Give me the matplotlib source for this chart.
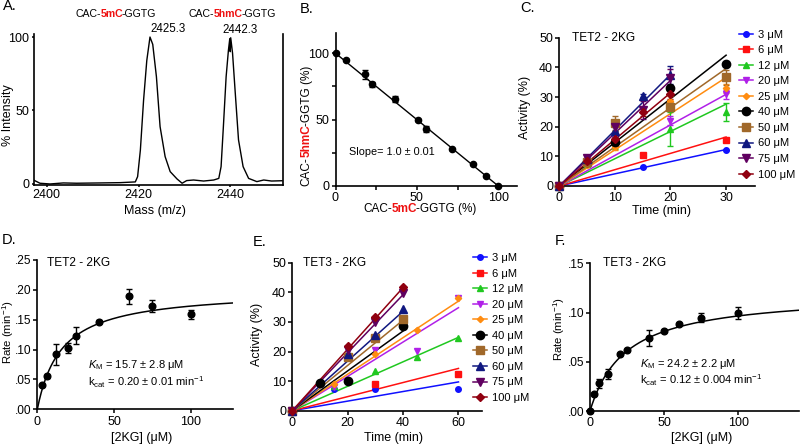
import numpy as np
import matplotlib
matplotlib.use('Agg')
import matplotlib.pyplot as plt
from matplotlib.ticker import FuncFormatter
from matplotlib.lines import Line2D

plt.rcParams['font.family'] = ['Liberation Sans', 'DejaVu Sans']
plt.rcParams['mathtext.fontset'] = 'custom'
plt.rcParams['mathtext.rm'] = 'Liberation Sans'
plt.rcParams['mathtext.it'] = 'Liberation Sans:italic'
plt.rcParams['mathtext.bf'] = 'Liberation Sans:bold'

# ---------------- data ----------------
# A: mass spectrum trace
mass_a = [2397.1, 2398.5, 2400.7, 2403.6, 2406.5, 2411.6, 2416.0, 2419.3, 2419.8, 2420.4,
          2421.1, 2421.8, 2422.5, 2423.1, 2423.9, 2424.7, 2425.8, 2426.9, 2428.4, 2429.5,
          2430.5, 2432.0, 2434.2, 2436.4, 2437.5, 2438.0, 2438.5, 2439.1, 2439.6, 2439.9,
          2440.0, 2440.1, 2440.5, 2441.1, 2441.8, 2442.8, 2444.0, 2445.8, 2447.3, 2449.0, 2451.3]
intensity_a = [2.7, 0.5, 0.0, 0.7, 0.5, 0.7, 0.9, 1.4, 5.0, 23.0,
               57.0, 84.0, 100.0, 95.0, 73.0, 39.0, 18.6, 8.4, 3.4, 0.5,
               2.3, 2.7, 2.0, 2.7, 3.8, 11.8, 39.0, 73.0, 91.0, 99.0,
               90.0, 99.5, 89.0, 61.5, 30.0, 11.8, 3.8, 1.6, 2.7, 2.0, 2.2]

# B: calibration
pct_5mc = [0, 6.5, 18.4, 22.4, 36.3, 50.6, 55.5, 71.4, 84.7, 92.3, 100]
pct_5hmc = [100, 95.0, 84.2, 76.6, 65.6, 49.8, 43.0, 27.7, 16.4, 7.8, 0]
err_b = [0, 0.5, 3.5, 2.0, 2.0, 0.5, 2.5, 0.5, 0.5, 0.5, 0]
b_slope = -1.0
b_intercept = 100.0

# C: TET2 time courses
conc = [3, 6, 12, 20, 25, 40, 50, 60, 75, 100]
conc_labels = ['3 μM', '6 μM', '12 μM', '20 μM', '25 μM', '40 μM', '50 μM', '60 μM', '75 μM', '100 μM']
c_t = [[0, 15, 30], [0, 15, 30], [0, 5, 10, 20, 30], [0, 5, 10, 20, 30], [0, 5, 10, 20, 30],
       [0, 5, 10, 20, 30], [0, 5, 10, 20, 30], [0, 5, 10, 15, 20], [0, 5, 10, 15, 20], [0, 5, 10, 15, 20]]
c_y = [[0, 6.5, 12.3], [0, 10.3, 15.6], [0, 7.5, 15.5, 19.2, 25.0], [0, 9.5, 17.0, 22.0, 31.0],
       [0, 7.0, 13.0, 28.5, 33.0], [0, 8.0, 15.0, 33.2, 41.2], [0, 8.0, 21.3, 26.8, 36.7],
       [0, 9.0, 18.5, 30.5, 37.5], [0, 9.5, 20.0, 25.5, 36.5], [0, 8.5, 16.0, 25.0, 31.0]]
c_err = [[0, 0, 0], [0, 0, 0], [0, 0.5, 3.0, 5.8, 3.0], [0, 1.0, 1.0, 1.5, 1.5],
         [0, 0.5, 1.0, 2.0, 1.5], [0, 0.5, 1.5, 1.0, 0.5], [0, 0.5, 2.3, 1.5, 2.5],
         [0, 0.5, 1.5, 0.5, 3.0], [0, 1.0, 1.5, 3.0, 3.0], [0, 0.5, 2.0, 1.5, 1.5]]
c_slope = [0.41, 0.55, 0.92, 1.03, 1.22, 1.47, 1.32, 1.88, 1.78, 1.57]

# D: TET2 Michaelis-Menten
d_conc = [3, 6, 12, 20, 25, 40, 60, 75, 100]
d_rate = [0.041, 0.055, 0.092, 0.103, 0.123, 0.147, 0.189, 0.173, 0.159]
d_err = [0.002, 0.002, 0.018, 0.008, 0.014, 0.002, 0.013, 0.010, 0.007]
d_vmax, d_km = 0.20, 15.7

# E: TET3 time courses
e_t = [[0, 15, 30, 60], [0, 30, 60], [0, 15, 30, 45, 60], [0, 15, 30, 45, 60], [0, 15, 30, 45, 60],
       [0, 10, 20, 40], [0, 20, 30, 40], [0, 20, 30, 40], [0, 20, 30, 40], [0, 20, 30, 40]]
e_y = [[0, 7.2, 7.2, 7.2], [0, 9.0, 12.3], [0, 8.5, 13.5, 18.0, 24.4], [0, 8.0, 20.5, 20.3, 38.0],
       [0, 9.0, 19.0, 27.3, 38.2], [0, 9.2, 10.0, 28.6], [0, 18.0, 24.4, 30.9],
       [0, 19.0, 25.5, 34.2], [0, 20.5, 30.0, 39.6], [0, 22.0, 31.8, 41.9]]
e_slope = [0.162, 0.238, 0.413, 0.58, 0.617, 0.673, 0.765, 0.84, 0.98, 1.04]

# F: TET3 Michaelis-Menten
f_conc = [0, 3, 6, 12, 20, 25, 40, 50, 60, 75, 100]
f_rate = [0.0, 0.017, 0.028, 0.038, 0.058, 0.062, 0.074, 0.081, 0.088, 0.095, 0.100]
f_err = [0, 0.001, 0.005, 0.005, 0.001, 0.001, 0.008, 0.001, 0.001, 0.005, 0.006]
f_vmax, f_km = 0.12, 24.2

# styles
colors = ['#1010ff', '#ff1010', '#20c820', '#b020e8', '#ff8c10',
          '#000000', '#a0682a', '#101880', '#600060', '#900010']
markers = ['o', 's', '^', 'v', 'D', 'o', 's', '^', 'v', 'D']
msizes = [4, 4.5, 4.5, 4.5, 3.2, 6, 5.5, 5.5, 5.5, 4.5]

# ---------------- figure ----------------
W, H = 800, 445
fig = plt.figure(figsize=(8, 4.45), dpi=100)

def add_ax(l, t, r, b):
    return fig.add_axes([l / W, 1 - b / H, (r - l) / W, (b - t) / H])

def P(x, y):
    return (x / W, 1 - y / H)

TICK = 9
LAB = 9
RED = '#ee1111'

def style(ax, right=False):
    for s in ['top', 'right']:
        ax.spines[s].set_visible(False)
    if right:
        ax.spines['right'].set_visible(True)
    for s in ax.spines.values():
        s.set_linewidth(1.2)
    ax.tick_params(direction='out', length=3, width=1.1, labelsize=TICK, pad=1.5)
    ax.patch.set_alpha(0)

def chain_texts(x, y, parts, size, rotation=0):
    """Place consecutive differently-coloured pieces of text."""
    arts = []
    host = fig.get_axes()[0]
    for i, (txt, col, wt) in enumerate(parts):
        shift = -1.2 if (i > 0 and parts[i - 1][2] == 'bold') else 0.0
        if i == 0:
            if rotation == 0:
                a = fig.text(*P(x, y), txt, color=col, fontweight=wt, fontsize=size,
                             ha='left', va='center')
            else:
                a = fig.text(*P(x, y), txt, color=col, fontweight=wt, fontsize=size,
                             ha='center', va='bottom', rotation=90)
        else:
            if rotation == 0:
                a = host.annotate(txt, xy=(1, 0.5), xycoords=arts[-1],
                                  xytext=(shift, 0), textcoords='offset points',
                                  color=col, fontweight=wt, fontsize=size,
                                  ha='left', va='center', annotation_clip=False)
            else:
                a = host.annotate(txt, xy=(0.5, 1), xycoords=arts[-1],
                                  xytext=(0, shift), textcoords='offset points',
                                  color=col, fontweight=wt, fontsize=size,
                                  ha='center', va='bottom', rotation=90,
                                  annotation_clip=False)
        arts.append(a)
    return arts

# ---- A ----
axA = add_ax(33.5, 33.5, 283, 185)
style(axA, right=True)
axA.plot(mass_a, intensity_a, color='black', lw=1.0)
axA.set_xlim(2397.1, 2451.5)
axA.set_ylim(-0.7, 102.4)
axA.set_xticks([2400, 2420, 2440])
axA.set_yticks([0, 50, 100])
axA.tick_params(length=1.5)
axA.tick_params(axis='y', right=False)

# ---- B ----
axB = add_ax(335.5, 33.3, 517, 186)
style(axB)
xb = np.array([min(pct_5mc), max(pct_5mc)])
axB.plot(xb, b_intercept + b_slope * xb, color='black', lw=1.0, zorder=2)
axB.errorbar(pct_5mc, pct_5hmc, yerr=err_b, fmt='o', color='black', ms=4.5,
             capsize=2, elinewidth=1, capthick=1, clip_on=False, zorder=3)
axB.set_xlim(0, 111.5)
axB.set_ylim(0, 115)
axB.set_xticks([0, 50, 100])
axB.set_xticks([25, 75], minor=True)
axB.set_yticks([0, 50, 100])
axB.set_yticks([25, 75], minor=True)
axB.tick_params(which='minor', direction='out', length=3, width=1.1)

# ---- C ----
axC = add_ax(559.3, 37.7, 755, 186)
style(axC)
handles = []
for i in range(len(conc)):
    tend = max(c_t[i])
    axC.plot([0, tend], [0, c_slope[i] * tend], color=colors[i], lw=1.1, zorder=2)
for i in range(len(conc)):
    axC.errorbar(c_t[i], c_y[i], yerr=c_err[i], fmt=markers[i], color=colors[i],
                 ms=msizes[i], capsize=2, elinewidth=1, capthick=1, clip_on=False, zorder=3)
    handles.append(Line2D([0], [0], color=colors[i], marker=markers[i], ms=msizes[i], lw=1.1))
axC.set_xlim(0, 35.2)
axC.set_ylim(0, 50)
axC.set_xticks([0, 10, 20, 30])
axC.set_yticks([0, 10, 20, 30, 40, 50])
fig.legend(handles, conc_labels, loc='upper left', bbox_to_anchor=P(739, 29.5),
           bbox_transform=fig.transFigure, frameon=False, fontsize=8, borderpad=0,
           borderaxespad=0, handlelength=1.25, handletextpad=0.45, labelspacing=0.5,
           numpoints=1)

# ---- D ----
axD = add_ax(37.3, 260, 233, 409.3)
style(axD)
xd = np.linspace(0, 127.5, 300)
axD.plot(xd, d_vmax * xd / (d_km + xd), color='black', lw=1.1, zorder=2)
axD.errorbar(d_conc, d_rate, yerr=d_err, fmt='o', color='black', ms=4.8,
             capsize=2.2, elinewidth=1, capthick=1, clip_on=False, zorder=3)
axD.set_xlim(0, 127.5)
axD.set_ylim(0, 0.25)
axD.set_xticks([0, 50, 100])
axD.set_yticks([0, 0.05, 0.10, 0.15, 0.20, 0.25])
dot_fmt = FuncFormatter(lambda v, p: ('%.2f' % v)[1:])
axD.yaxis.set_major_formatter(dot_fmt)
axD.tick_params(axis='y', pad=1.0, labelsize=8.6)

# ---- E ----
axE = add_ax(292.3, 262.7, 482, 410.7)
style(axE)
handlesE = []
for i in range(len(conc)):
    tend = max(e_t[i])
    axE.plot([0, tend], [0, e_slope[i] * tend], color=colors[i], lw=1.1, zorder=2)
for i in range(len(conc)):
    axE.plot(e_t[i], e_y[i], linestyle='none', marker=markers[i], color=colors[i],
             ms=msizes[i], clip_on=False, zorder=3)
    handlesE.append(Line2D([0], [0], color=colors[i], marker=markers[i], ms=msizes[i], lw=1.1))
axE.set_xlim(0, 68.5)
axE.set_ylim(0, 50)
axE.set_xticks([0, 20, 40, 60])
axE.set_yticks([0, 10, 20, 30, 40, 50])
fig.legend(handlesE, conc_labels, loc='upper left', bbox_to_anchor=P(473, 253),
           bbox_transform=fig.transFigure, frameon=False, fontsize=8, borderpad=0,
           borderaxespad=0, handlelength=1.25, handletextpad=0.45, labelspacing=0.5,
           numpoints=1)

# ---- F ----
axF = add_ax(590, 263.4, 799, 411)
style(axF)
xf = np.linspace(0, 141, 300)
axF.plot(xf, f_vmax * xf / (f_km + xf), color='black', lw=1.1, zorder=2)
axF.errorbar(f_conc, f_rate, yerr=f_err, fmt='o', color='black', ms=4.8,
             capsize=2.2, elinewidth=1, capthick=1, clip_on=False, zorder=3)
axF.set_xlim(0, 141)
axF.set_ylim(0, 0.15)
axF.set_xticks([0, 50, 100])
axF.set_yticks([0, 0.05, 0.10, 0.15])
axF.yaxis.set_major_formatter(dot_fmt)
axF.tick_params(axis='y', pad=1.0, labelsize=8.6)

# ---------------- texts ----------------
# panel letters
for letter, (x, y) in zip(['A.', 'B.', 'C.', 'D.', 'E.', 'F.'],
                          [(2.5, 6.5), (300, 8.7), (520, 8.3), (1.7, 240), (253, 242), (555, 241)]):
    fig.text(*P(x, y), letter, fontsize=10.5, ha='left', va='center')

# A annotations
chain_texts(75, 14.3, [('CAC-', 'black', 'normal'), ('5mC', RED, 'bold'),
                       ('-GGTG', 'black', 'normal')], 7.6)
chain_texts(188.3, 14.3, [('CAC-', 'black', 'normal'), ('5hmC', RED, 'bold'),
                          ('-GGTG', 'black', 'normal')], 7.6)
fig.text(*P(168.3, 29.3), '2425.3', fontsize=8.3, ha='center', va='center')
fig.text(*P(240, 30), '2442.3', fontsize=8.3, ha='center', va='center')
fig.text(*P(8, 115), '% Intensity', fontsize=LAB, rotation=90, ha='center', va='center')
fig.text(*P(155, 211), 'Mass (m/z)', fontsize=LAB, ha='center', va='center')

# B labels
chain_texts(306.7, 186, [('CAC-', 'black', 'normal'), ('5hmC', RED, 'bold'),
                         ('-GGTG (%)', 'black', 'normal')], 8.5, rotation=90)
chain_texts(363.3, 209.3, [('CAC-', 'black', 'normal'), ('5mC', RED, 'bold'),
                           ('-GGTG (%)', 'black', 'normal')], 8.5)
fig.text(*P(349.3, 152), 'Slope= 1.0 ± 0.01', fontsize=7.8, ha='left', va='center')

# C labels
fig.text(*P(572, 38), 'TET2 - 2KG', fontsize=8.6, ha='left', va='center')
fig.text(*P(525, 107), 'Activity (%)', fontsize=LAB, rotation=90, ha='center', va='center')
fig.text(*P(661.7, 211), 'Time (min)', fontsize=LAB, ha='center', va='center')

# D labels
fig.text(*P(47, 263), 'TET2 - 2KG', fontsize=8.6, ha='left', va='center')
fig.text(*P(88.3, 365), r'$K_{\mathrm{M}}$ = 15.7 ± 2.8 μM', fontsize=8, ha='left', va='center')
fig.text(*P(88.3, 381.7), r'k$_{\mathrm{cat}}$ = 0.20 ± 0.01 min$^{\mathrm{-1}}$', fontsize=8,
         ha='left', va='center')
fig.text(*P(8.3, 332), r'Rate (min$^{\mathrm{-1}}$)', fontsize=8.2, rotation=90, ha='center', va='center')
fig.text(*P(141.7, 438), '[2KG] (μM)', fontsize=LAB, ha='center', va='center')

# E labels
fig.text(*P(303, 263), 'TET3 - 2KG', fontsize=8.6, ha='left', va='center')
fig.text(*P(256.7, 334), 'Activity (%)', fontsize=LAB, rotation=90, ha='center', va='center')
fig.text(*P(393, 438), 'Time (min)', fontsize=LAB, ha='center', va='center')

# F labels
fig.text(*P(603, 263), 'TET3 - 2KG', fontsize=8.6, ha='left', va='center')
fig.text(*P(640, 364), r'$K_{\mathrm{M}}$ = 24.2 ± 2.2 μM', fontsize=8, ha='left', va='center')
fig.text(*P(640, 380), r'k$_{\mathrm{cat}}$ = 0.12 ± 0.004 min$^{\mathrm{-1}}$', fontsize=8,
         ha='left', va='center')
fig.text(*P(559, 329), r'Rate (min$^{\mathrm{-1}}$)', fontsize=8.2, rotation=90, ha='center', va='center')
fig.text(*P(701.7, 438), '[2KG] (μM)', fontsize=LAB, ha='center', va='center')

fig.savefig('out.png', dpi=100)
